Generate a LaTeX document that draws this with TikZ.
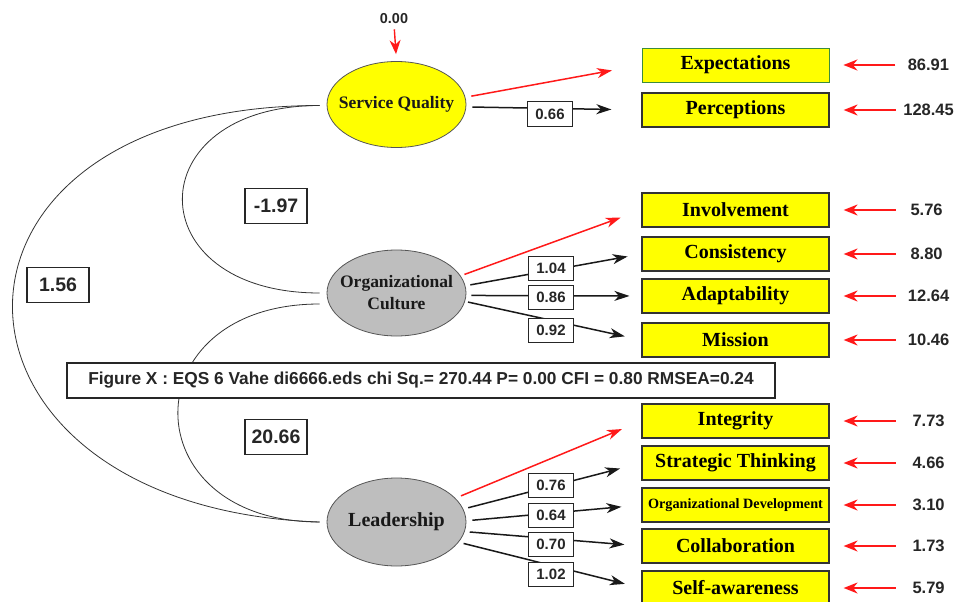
\documentclass[tikz,border=0pt]{standalone}
\usepackage{fontspec}
\setmainfont{Liberation Serif}
\setsansfont{Liberation Sans}
\usetikzlibrary{shapes.geometric,arrows.meta,positioning,calc}
\definecolor{boxyellow}{RGB}{255,255,0}
\definecolor{latgray}{RGB}{190,190,190}
\definecolor{errred}{RGB}{255,25,25}
\definecolor{edgegray}{RGB}{85,85,85}
\definecolor{expgreen}{RGB}{60,140,60}
\def\BoxW{187pt}
\def\BoxH{34pt}
\tikzset{
  latent/.style={ellipse,draw=edgegray,line width=0.8pt,minimum width=139pt,minimum height=86pt,
    inner xsep=-16pt,inner ysep=0pt,align=center,text=black!90,font=\bfseries\fontsize{17.5}{22}\selectfont},
  indic/.style={rectangle,draw=black!80,fill=boxyellow,line width=1.2pt,minimum width=\BoxW,
    minimum height=\BoxH,inner sep=0pt,font=\bfseries\fontsize{20}{22}\selectfont},
  coef/.style={rectangle,draw=black!85,fill=white,line width=1pt,minimum width=45pt,minimum height=24pt,
    inner sep=0pt,text=black!85,font=\sffamily\bfseries\fontsize{15}{16}\selectfont},
  covlab/.style={coef,minimum width=62pt,minimum height=35pt,line width=1.2pt,
    font=\sffamily\bfseries\fontsize{19.5}{20}\selectfont},
  errnum/.style={inner sep=0pt,text=black!85,font=\sffamily\bfseries\fontsize{16.5}{18}\selectfont},
  loadarrow/.style={line width=1.5pt,black!90,-{Stealth[length=15pt,width=10pt,inset=4.5pt]}},
  redload/.style={loadarrow,draw=errred},
  errarrow/.style={line width=1.7pt,draw=errred,-{Stealth[length=14pt,width=11pt,inset=4.5pt]}},
  cov/.style={line width=0.8pt,black!80},
}

\begin{document}
\begin{tikzpicture}[x=1pt,y=-1pt]
\useasboundingbox (0,0) rectangle (954,602);
% latent factors
\node[latent,fill=boxyellow] (sq) at (396.5,104.5) {Service Quality};
\node[latent,fill=latgray] (oc) at (396.5,293) {Organizational\\Culture};
\node[latent,fill=latgray,minimum height=88pt,font=\bfseries\fontsize{20}{22}\selectfont] (ld) at (396.5,522) {Leadership};
% 
\node[errnum,font=\sffamily\bfseries\fontsize{14.4}{16}\selectfont] (zsq) at (394,19) {0.00};
\draw[errarrow,line width=1.4pt,shorten <=5pt,shorten >=7pt] (zsq.south) -- (sq.north);
% indicators
\node[indic,draw=expgreen,line width=0.9pt] (exp) at (735.5,65) {Expectations};
\node[indic] (per) at (735.5,110) {Perceptions};
\node[indic] (inv) at (735.5,210) {Involvement};
\node[indic] (con) at (735.5,254) {Consistency};
\node[indic] (ada) at (735.5,296) {Adaptability};
\node[indic] (mis) at (735.5,340) {Mission};
\node[indic] (int) at (735.5,421) {Integrity};
\node[indic] (stt) at (735.5,463) {Strategic Thinking};
\node[indic,font=\bfseries\fontsize{14.2}{16}\selectfont] (odv) at (735.5,505) {Organizational Development};
\node[indic] (col) at (735.5,546) {Collaboration};
\node[indic] (saw) at (735.5,588) {Self-awareness};
% error terms
\node[errnum] (eexp) at ($(exp.east)+(99,0)$) {86.91};
\node[errnum] (eper) at ($(per.east)+(99,0)$) {128.45};
\node[errnum] (einv) at ($(inv.east)+(97,0)$) {5.76};
\node[errnum] (econ) at ($(con.east)+(97,0)$) {8.80};
\node[errnum] (eada) at ($(ada.east)+(99,0)$) {12.64};
\node[errnum] (emis) at ($(mis.east)+(99,0)$) {10.46};
\node[errnum] (eint) at ($(int.east)+(99,0)$) {7.73};
\node[errnum] (estt) at ($(stt.east)+(99,0)$) {4.66};
\node[errnum] (eodv) at ($(odv.east)+(99,0)$) {3.10};
\node[errnum] (ecol) at ($(col.east)+(99,0)$) {1.73};
\node[errnum] (esaw) at ($(saw.east)+(99,0)$) {5.79};
% 
\coordinate (texp) at ($(exp.east)+(66,0)$);
\coordinate (tper) at ($(per.east)+(66,0)$);
\coordinate (tinv) at ($(inv.east)+(66,0)$);
\coordinate (tcon) at ($(con.east)+(66,0)$);
\coordinate (tada) at ($(ada.east)+(66,0)$);
\coordinate (tmis) at ($(mis.east)+(66,0)$);
\coordinate (tint) at ($(int.east)+(66,0)$);
\coordinate (tstt) at ($(stt.east)+(66,0)$);
\coordinate (todv) at ($(odv.east)+(66,0)$);
\coordinate (tcol) at ($(col.east)+(66,0)$);
\coordinate (tsaw) at ($(saw.east)+(66,0)$);
% 
\draw[errarrow,shorten >=14pt] (texp) -- (exp.east);
\draw[errarrow,shorten >=14pt] (tper) -- (per.east);
\draw[errarrow,shorten >=14pt] (tinv) -- (inv.east);
\draw[errarrow,shorten >=14pt] (tcon) -- (con.east);
\draw[errarrow,shorten >=14pt] (tada) -- (ada.east);
\draw[errarrow,shorten >=14pt] (tmis) -- (mis.east);
\draw[errarrow,shorten >=14pt] (tint) -- (int.east);
\draw[errarrow,shorten >=14pt] (tstt) -- (stt.east);
\draw[errarrow,shorten >=14pt] (todv) -- (odv.east);
\draw[errarrow,shorten >=14pt] (tcol) -- (col.east);
\draw[errarrow,shorten >=14pt] (tsaw) -- (saw.east);
% loadings
\draw[redload,shorten <=6pt,shorten >=30pt] (sq.6) -- (exp.west);
\draw[loadarrow,shorten <=6pt,shorten >=30pt] (sq.-2) -- (per.west);
\draw[redload,shorten <=4pt,shorten >=22pt] (oc.15) -- (inv.west);
\draw[loadarrow,shorten <=5pt,shorten >=14pt] (oc.6) -- (con.west);
\draw[loadarrow,shorten <=5pt,shorten >=12pt] (oc.-2) -- (ada.west);
\draw[loadarrow,shorten <=3pt,shorten >=17pt] (oc.-7) -- (mis.west);
\draw[redload,shorten <=6pt,shorten >=21pt] (ld.22) -- (int.west);
\draw[loadarrow,shorten <=5pt,shorten >=22pt] (ld.11) -- (stt.west);
\draw[loadarrow,shorten <=6pt,shorten >=20pt] (ld.1) -- (odv.west);
\draw[loadarrow,shorten <=5pt,shorten >=17pt] (ld.-8) -- (col.west);
\draw[loadarrow,shorten <=5pt,shorten >=17pt] (ld.-18) -- (saw.west);
% 
\node[coef] (c066) at (550,114) {0.66};
\node[coef] (c104) at (551,268) {1.04};
\node[coef] (c086) at (551,297) {0.86};
\node[coef] (c092) at (551,330) {0.92};
\node[coef] (c076) at (551,485) {0.76};
\node[coef] (c064) at (551,515) {0.64};
\node[coef] (c070) at (551,544) {0.70};
\node[coef] (c102) at (551,574) {1.02};
% covariances
\coordinate (sqc) at ($(sq.west)+(-7,1)$);
\coordinate (oca) at ($(oc.west)+(-7,0)$);
\coordinate (ocb) at ($(oc.west)+(-7,11)$);
\coordinate (ldc) at ($(ld.west)+(-7,0)$);
\draw[cov] (sqc) .. controls +(-183,0) and +(-183,0) .. (oca);
\draw[cov] (sqc) .. controls +(-415,0) and +(-404,-14) .. (ldc);
\draw[cov] (ocb) .. controls +(-189,0) and +(-189,0) .. (ldc);
% 
\node[covlab] (v197) at (276,206) {-1.97};
\node[covlab] (v156) at (58,285) {1.56};
\node[covlab] (v2066) at (276,437) {20.66};
% 
\node[draw=black!85,fill=white,line width=1.2pt,minimum width=708pt,minimum height=35pt,inner sep=0pt,
  text=black!85,font=\sffamily\bfseries\fontsize{17.3}{18}\selectfont] (cap) at (421,380.5)
  {Figure X : EQS 6 Vahe di6666.eds chi Sq.= 270.44 P= 0.00 CFI = 0.80 RMSEA=0.24};
\end{tikzpicture}
\end{document}
